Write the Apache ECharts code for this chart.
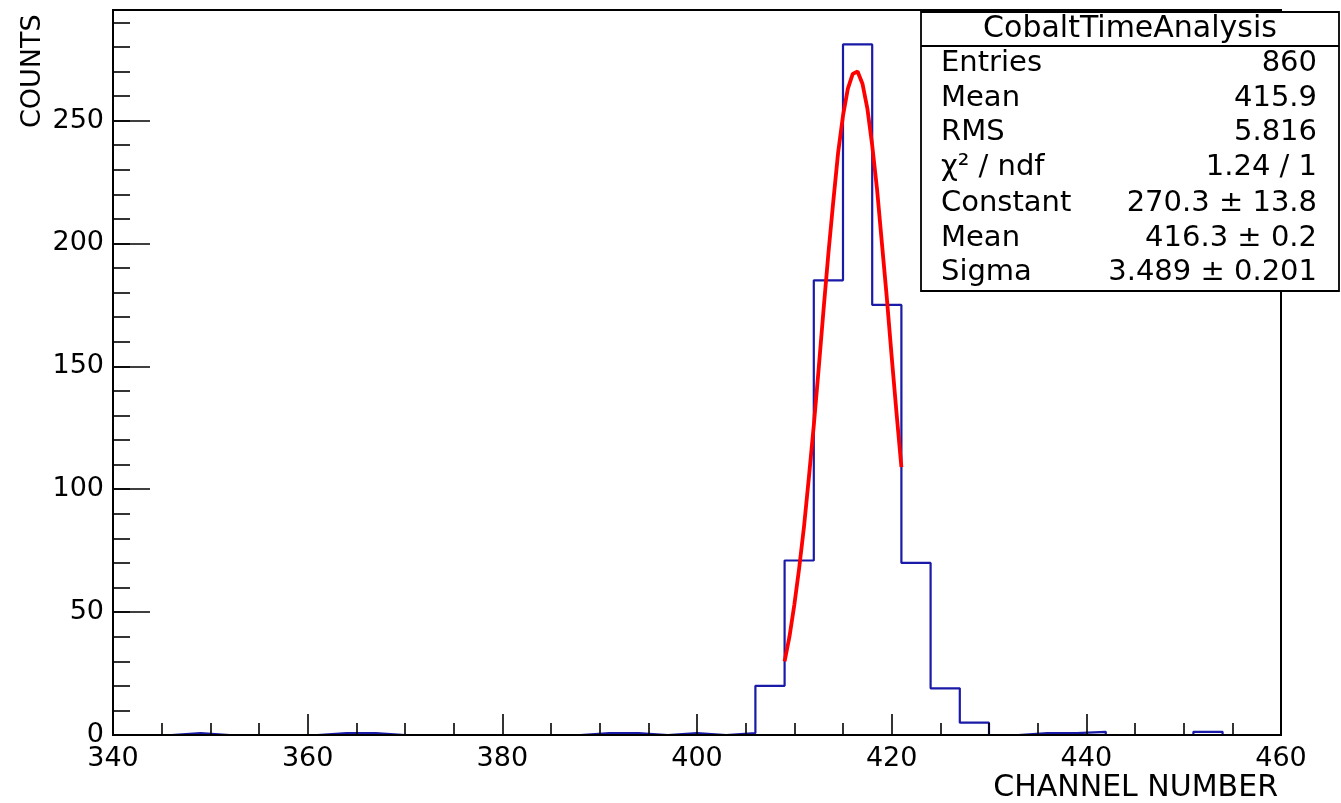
<!DOCTYPE html>
<html lang="en">
<head>
    <meta charset="UTF-8">
    <title>CobaltTimeAnalysis</title>
    <script src="https://cdn.jsdelivr.net/npm/echarts@6/dist/echarts.min.js"></script>
    <style>
        html, body { margin: 0; padding: 0; background: #fff; }
        #main { width: 1341px; height: 803px; }
    </style>
</head>
<body>
<div id="main"></div>
<script type="text/javascript">
    // bin edges (channel number), 3 channels per bin
    var binEdges = [340, 343, 346, 349, 352, 355, 358, 361, 364, 367,
                    370, 373, 376, 379, 382, 385, 388, 391, 394, 397,
                    400, 403, 406, 409, 412, 415, 418, 421, 424, 427,
                    430, 433, 436, 439, 442, 445, 448, 451, 454, 457, 460];
    // counts per bin
    var counts = [0, 0, 0.8, 0, 0, 0, 0, 0.8, 0.8, 0,
                  0, 0, 0, 0, 0, 0, 0.8, 0.8, 0, 0.8,
                  0, 0.8, 20, 71, 185, 281, 175, 70, 19, 5,
                  0, 0.8, 0.8, 1.3, 0, 0, 0, 1.3, 0, 0];
    // fitted curve as drawn (red)
    var fitX = [409, 409.5, 410, 410.5, 411, 411.5, 412, 412.5, 413, 413.5,
                414, 414.5, 415, 415.5, 416, 416.5, 417, 417.5, 418, 418.5,
                419, 419.5, 420, 420.5, 421];
    var fitY = [30, 40, 53, 68, 85, 105, 126, 149, 173, 196,
                217, 237, 252, 263, 269, 270, 265, 255, 240, 222,
                200, 178, 154, 131, 109];
    var xTicks = [340, 360, 380, 400, 420, 440, 460];
    var yTicks = [0, 50, 100, 150, 200, 250];

    var statsTitle = 'CobaltTimeAnalysis';
    var statsNames = ['Entries', 'Mean', 'RMS', 'χ² / ndf', 'Constant', 'Mean', 'Sigma'];
    var statsValues = ['860', '415.9', '5.816', '1.24 / 1', '270.3 ± 13.8', '416.3 ± 0.2', '3.489 ± 0.201'];

    var FONT = '"DejaVu Sans", "Liberation Sans", Arial, sans-serif';

    var myChart = echarts.init(document.getElementById('main'));

    // histogram outline as a step line
    var histData = [];
    for (var i = 0; i < counts.length; i++) {
        histData.push([binEdges[i], counts[i]]);
    }
    histData.push([binEdges[binEdges.length - 1], counts[counts.length - 1]]);

    var fitData = [];
    for (var j = 0; j < fitX.length; j++) {
        fitData.push([fitX[j], fitY[j]]);
    }

    // stats box
    var boxL = 921, boxR = 1339, boxT = 12, boxB = 291, sepY = 46;
    var rowY = [63, 98, 132, 167, 203, 238, 272];
    var graphics = [
        {
            type: 'rect', z: 100,
            shape: {x: boxL, y: boxT, width: boxR - boxL, height: boxB - boxT},
            style: {fill: '#fff', stroke: '#000', lineWidth: 1.8}
        },
        {
            type: 'line', z: 101,
            shape: {x1: boxL, y1: sepY, x2: boxR, y2: sepY},
            style: {stroke: '#000', lineWidth: 1.8}
        },
        {
            type: 'text', z: 101, x: (boxL + boxR) / 2, y: 29,
            style: {text: statsTitle, font: '30px ' + FONT, fill: '#000',
                    textAlign: 'center', textVerticalAlign: 'middle'}
        },
        {
            type: 'text', z: 10, x: 19, y: 128, rotation: Math.PI / 2,
            style: {text: 'COUNTS', font: '27px ' + FONT, fill: '#000',
                    textAlign: 'left', textVerticalAlign: 'top'}
        },
        {
            type: 'text', z: 10, x: 1278, y: 788,
            style: {text: 'CHANNEL NUMBER', font: '30px ' + FONT, fill: '#000',
                    textAlign: 'right', textVerticalAlign: 'middle'}
        }
    ];
    for (var k = 0; k < statsNames.length; k++) {
        graphics.push({
            type: 'text', z: 101, x: 941, y: rowY[k],
            style: {text: statsNames[k], font: '29px ' + FONT, fill: '#000',
                    textAlign: 'left', textVerticalAlign: 'middle'}
        });
        graphics.push({
            type: 'text', z: 101, x: 1317, y: rowY[k],
            style: {text: statsValues[k], font: '29px ' + FONT, fill: '#000',
                    textAlign: 'right', textVerticalAlign: 'middle'}
        });
    }

    var option = {
        animation: false,
        backgroundColor: '#fff',
        grid: {
            left: 113, right: 60, top: 10, bottom: 68,
            show: true, borderColor: '#000', borderWidth: 2,
            backgroundColor: 'transparent'
        },
        xAxis: {
            type: 'value', min: 340, max: 460, interval: 20, z: 5,
            axisLine: {show: true, onZero: false, lineStyle: {color: '#000', width: 2}},
            axisTick: {show: true, inside: true, length: 21, lineStyle: {color: '#000', width: 1.6}},
            minorTick: {show: true, splitNumber: 4, length: 12, lineStyle: {color: '#000', width: 1.6}},
            splitLine: {show: false},
            axisLabel: {
                color: '#000', fontFamily: FONT, fontSize: 27, margin: 10,
                formatter: function (v) { return xTicks.indexOf(v) >= 0 ? String(v) : ''; }
            }
        },
        yAxis: [
            {
                type: 'value', min: 0, max: 295, interval: 50, z: 5,
                axisLine: {show: true, onZero: false, lineStyle: {color: '#000', width: 2}},
                axisTick: {show: true, inside: true, length: 37, lineStyle: {color: '#000', width: 1.6}},
                splitLine: {show: false},
                axisLabel: {
                    color: '#000', fontFamily: FONT, fontSize: 27, margin: 9,
                    showMaxLabel: false,
                    formatter: function (v) { return yTicks.indexOf(v) >= 0 ? String(v) : ''; }
                }
            },
            {
                type: 'value', min: 0, max: 295, interval: 10, z: 5, position: 'left',
                axisLine: {show: false},
                axisTick: {show: true, inside: true, length: 17, lineStyle: {color: '#000', width: 1.6}},
                splitLine: {show: false},
                axisLabel: {show: false}
            }
        ],
        graphic: graphics,
        series: [
            {
                name: 'hist', type: 'line', step: 'end', data: histData,
                yAxisIndex: 0, showSymbol: false, z: 2,
                lineStyle: {color: '#1a1aa8', width: 2.2}
            },
            {
                name: 'fit', type: 'line', data: fitData, yAxisIndex: 0,
                showSymbol: false, smooth: false, z: 3,
                lineStyle: {color: '#ff0000', width: 3.8}
            }
        ]
    };

    myChart.setOption(option);
</script>
</body>
</html>
